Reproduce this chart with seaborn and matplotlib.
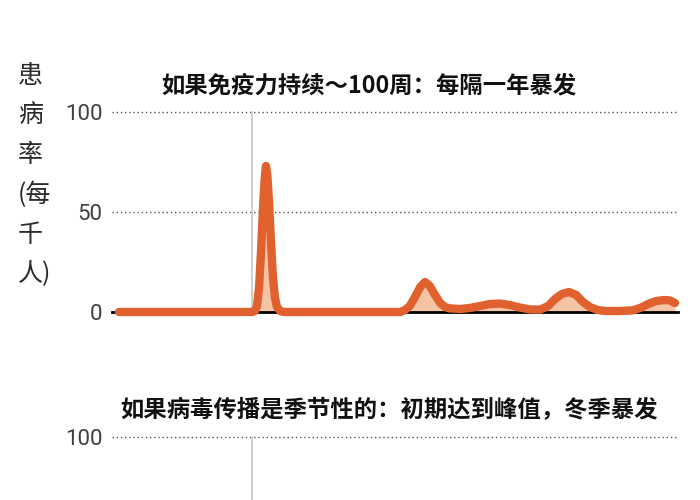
import numpy as np
import pandas as pd
import seaborn as sns
import matplotlib.pyplot as plt

# time in years (ticks at whole years), cases per thousand
years = [-0.475, 1.19, 1.225, 1.25, 1.275, 1.30, 1.325, 1.345, 1.362, 1.38, 1.40,
         1.425, 1.45, 1.475, 1.50, 1.54, 1.58,
         3.04, 3.10, 3.16, 3.225, 3.29, 3.35, 3.41, 3.475, 3.54, 3.60, 3.66, 3.79,
         3.91, 4.04, 4.16, 4.29, 4.41, 4.54, 4.66, 4.79, 4.89, 4.975, 5.06, 5.15,
         5.24, 5.325, 5.41, 5.51, 5.61, 5.79, 5.94, 6.04, 6.14, 6.24, 6.34, 6.41, 6.475]
cases = [0, 0, 0.5, 3, 12, 30, 52, 66, 73, 68, 55,
         35, 17, 7, 2.5, 0.5, 0,
         0, 1, 3, 7.5, 12.5, 15, 13, 8.5, 4.5, 2.5, 1.8, 1.5,
         2, 3, 4, 4.2, 3.5, 2.2, 1.3, 1.2, 3, 6.5, 9, 10,
         8.5, 5, 2.5, 1, 0.5, 0.5, 0.8, 2, 4, 5.5, 6, 5.8, 4.5]

year_ticks = [0, 1, 2, 3, 4, 5, 6]
y_ticks_top = [0, 50, 100]
y_ticks_bottom = [100]
now_year = 1.19

title1 = "如果免疫力持续～100周：每隔一年暴发"
title2 = "如果病毒传播是季节性的：初期达到峰值，冬季暴发"
ylabel = "患\n病\n率\n(每\n千\n人)"

orange = "#e0612e"
peach = "#f5c4a6"

sns.set_style("white")
plt.rcParams["font.family"] = ["Noto Sans CJK SC", "DejaVu Sans"]

df = pd.DataFrame({"year": years, "cases": cases})

fig = plt.figure(figsize=(7, 5), dpi=100)
ax1 = fig.add_axes([112 / 700, 1 - 312 / 500, 566 / 700, 208 / 500])
ax2 = fig.add_axes([112 / 700, 1 - 637 / 500, 566 / 700, 208 / 500])

for ax, yt in ((ax1, y_ticks_top), (ax2, y_ticks_bottom)):
    ax.set_xlim(-0.5625, 6.5125)
    ax.set_ylim(0, 104)
    sns.despine(ax=ax, left=True)
    ax.set_yticks(yt)
    ax.set_yticklabels([str(v) for v in yt], fontsize=16, color="#404040",
                       family=["Roboto", "DejaVu Sans"])
    ax.tick_params(axis="y", length=0, pad=7)
    ax.set_xticks(year_ticks)
    ax.set_xticklabels([])
    ax.tick_params(axis="x", direction="out", length=5, width=1, color="#888")
    ax.grid(axis="y", linestyle=(0, (1, 2)), color="#555", linewidth=1)
    ax.spines["bottom"].set_color("black")
    ax.spines["bottom"].set_linewidth(2)
    ax.spines["bottom"].set_zorder(3)
    ax.axvline(now_year, ymax=100 / 104, color="#cfcfcf", linewidth=1.5, zorder=1)

ax1.fill_between(df["year"], df["cases"], 0, color=peach, zorder=2, linewidth=0)
sns.lineplot(data=df, x="year", y="cases", ax=ax1, color=orange, linewidth=6,
             zorder=4)
for line in ax1.lines:
    if line.get_color() == orange:
        line.set_clip_on(False)
        line.set_solid_capstyle("round")
        line.set_solid_joinstyle("round")
ax1.set_xlabel("")
ax1.set_ylabel("")

fig.text(369 / 700, 1 - 85 / 500, title1, ha="center", va="center",
         fontsize=16.8, fontweight="bold", color="#111")
fig.text(389 / 700, 1 - 410 / 500, title2, ha="center", va="center",
         fontsize=16.8, fontweight="bold", color="#111")
fig.text(18 / 700, 1 - 175 / 500, ylabel, ha="left", va="center",
         multialignment="left", fontsize=18, color="#2a2a2a", linespacing=1.68)

fig.savefig("out.png", dpi=100)
